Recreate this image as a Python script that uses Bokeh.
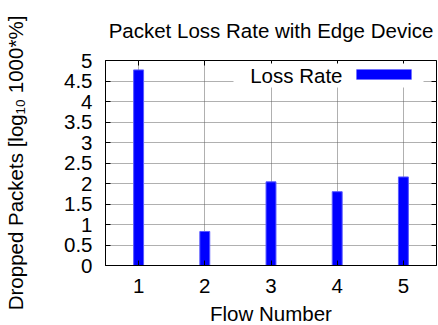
from bokeh.plotting import figure
from bokeh.models import Label, BoxAnnotation, LinearAxis, FixedTicker, Range1d, Title
from bokeh.embed import file_html
from bokeh.resources import INLINE

# ---- data ----
flows = [1, 2, 3, 4, 5]
loss_rate = [4.77, 0.83, 2.04, 1.80, 2.16]
x_ticks = [1, 2, 3, 4, 5]
x_tick_labels = ["1", "2", "3", "4", "5"]
y_ticks = [0, 0.5, 1, 1.5, 2, 2.5, 3, 3.5, 4, 4.5, 5]
y_tick_labels = ["0", "0.5", "1", "1.5", "2", "2.5", "3", "3.5", "4", "4.5", "5"]
series_name = "Loss Rate"
title_text = "Packet Loss Rate with Edge Device"
x_label = "Flow Number"
y_label = "Dropped Packets [log\u2081\u2080 1000*%]"

FONT = "Liberation Sans"
FS = "20.5px"

p = figure(width=438, height=325, output_backend="svg", toolbar_location=None,
           x_range=Range1d(0.5, 5.5), y_range=Range1d(0, 5),
           frame_width=331, frame_height=205,
           min_border_left=105, min_border_right=2, min_border_top=60,
           min_border_bottom=10)

bottom_axis = p.below[0]
left_axis = p.left[0]

p.background_fill_color = "white"
p.border_fill_color = "white"
p.outline_line_color = "black"
p.outline_line_width = 1

# bars
p.vbar(x=flows, top=loss_rate, width=0.15, fill_color="#0000ff",
       line_color="#5a5aff", line_width=1)

# mirror axes (ticks only, labels invisible) on top and right
top_axis = LinearAxis(ticker=FixedTicker(ticks=x_ticks))
right_axis = LinearAxis(ticker=FixedTicker(ticks=y_ticks))
for ax in (top_axis, right_axis):
    ax.major_label_text_alpha = 0
    ax.major_label_text_font_size = "0px"
    ax.major_label_standoff = 0
    ax.axis_line_color = None
p.add_layout(top_axis, "above")
p.add_layout(right_axis, "right")

# title
title = Title(text=title_text, text_font=FONT, text_font_size=FS,
              text_font_style="normal", align="center", text_color="black",
              vertical_align="top", standoff=33)
p.add_layout(title, "above")

for ax in (bottom_axis, left_axis, top_axis, right_axis):
    ax.major_tick_in = 5
    ax.major_tick_out = 0
    ax.minor_tick_in = 0
    ax.minor_tick_out = 0
    ax.major_tick_line_color = "black"

for ax in (bottom_axis, left_axis):
    ax.major_label_text_font = FONT
    ax.major_label_text_font_size = FS
    ax.major_label_text_color = "black"
    ax.axis_label_text_font = FONT
    ax.axis_label_text_font_size = FS
    ax.axis_label_text_font_style = "normal"
    ax.axis_label_text_color = "black"
    ax.axis_line_color = "black"

bottom_axis.ticker = FixedTicker(ticks=x_ticks)
bottom_axis.major_label_overrides = dict(zip(x_ticks, x_tick_labels))
bottom_axis.axis_label = x_label
bottom_axis.major_label_standoff = 13
bottom_axis.axis_label_standoff = 6

left_axis.ticker = FixedTicker(ticks=y_ticks)
left_axis.major_label_overrides = dict(zip(y_ticks, y_tick_labels))
left_axis.axis_label = y_label
left_axis.major_label_standoff = 13
left_axis.axis_label_standoff = 34

# grid
p.xgrid.ticker = FixedTicker(ticks=x_ticks)
p.ygrid.ticker = FixedTicker(ticks=y_ticks)
p.grid.grid_line_color = "#606060"
p.grid.grid_line_dash = "1 1"
p.grid.grid_line_width = 1

# legend (text left of sample, as in the original)
p.add_layout(BoxAnnotation(left=128, right=318, bottom=178, top=202,
                           left_units="screen", right_units="screen",
                           bottom_units="screen", top_units="screen",
                           fill_color="white", fill_alpha=1.0, line_color=None))
p.add_layout(Label(x=237, y=190, x_units="screen", y_units="screen",
                   text=series_name, text_align="right", text_baseline="alphabetic",
                   text_font=FONT, text_font_size=FS, text_color="black"))
p.add_layout(BoxAnnotation(left=251, right=306, bottom=186, top=196,
                           left_units="screen", right_units="screen",
                           bottom_units="screen", top_units="screen",
                           fill_color="#0000ff", fill_alpha=1.0,
                           line_color="#5a5aff", line_width=1))

open("out.html", "w").write(file_html(p, INLINE))
